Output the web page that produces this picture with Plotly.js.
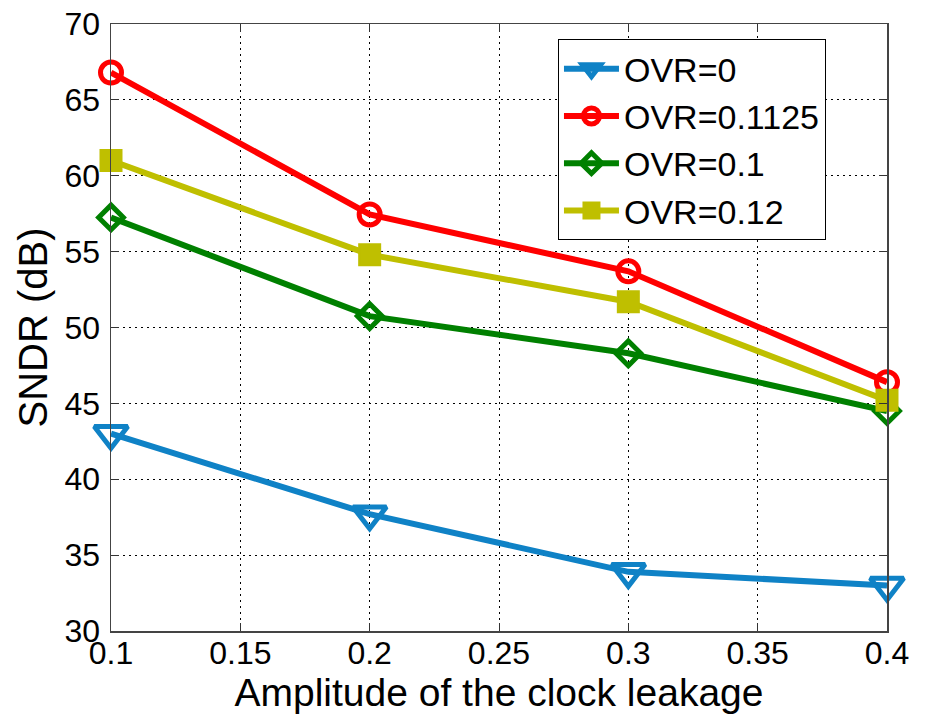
<!DOCTYPE html>
<html>
<head>
<meta charset="utf-8">
<script src="https://cdn.plot.ly/plotly-3.0.1.min.js"></script>
<style>
  html, body { margin: 0; padding: 0; background: #fff; }
  #chart { width: 928px; height: 715px; }
</style>
</head>
<body>
<div id="chart"></div>
<script>
// Clock-leakage amplitude (x) and measured SNDR in dB for each OVR setting
const amplitude = [0.1, 0.2, 0.3, 0.4];
const sndrOvr0 = [43.0, 37.7, 33.9, 33.0];
const sndrOvr01125 = [66.8, 57.45, 53.7, 46.4];
const sndrOvr01 = [57.25, 50.75, 48.3, 44.5];
const sndrOvr012 = [61.0, 54.8, 51.7, 45.2];

const seriesNames = ['OVR=0', 'OVR=0.1125', 'OVR=0.1', 'OVR=0.12'];
const xTicks = [0.1, 0.15, 0.2, 0.25, 0.3, 0.35, 0.4];
const xTickText = ['0.1', '0.15', '0.2', '0.25', '0.3', '0.35', '0.4'];
const yTicks = [30, 35, 40, 45, 50, 55, 60, 65, 70];

const FONT = 'Arial, "Liberation Sans", sans-serif';

function series(name, y, color, symbol, size, lw) {
  return {
    type: 'scatter',
    mode: 'lines+markers',
    name: name,
    x: amplitude,
    y: y,
    line: { color: color, width: 6 },
    marker: { symbol: symbol, size: size, color: color, line: { color: color, width: lw } },
    cliponaxis: false
  };
}

const traces = [
  series(seriesNames[0], sndrOvr0, '#0F82C6', 'triangle-down-open', 29, 5),
  series(seriesNames[1], sndrOvr01125, '#FF0000', 'circle-open', 21, 5),
  series(seriesNames[2], sndrOvr01, '#008000', 'diamond-open', 19, 5),
  series(seriesNames[3], sndrOvr012, '#BFBF00', 'square', 21, 2)
];

const axisCommon = {
  showline: true,
  linecolor: '#444',
  linewidth: 1.5,
  mirror: 'ticks',
  ticks: 'inside',
  ticklen: 8,
  tickwidth: 1,
  tickcolor: '#333',
  showgrid: true,
  gridcolor: '#000',
  gridwidth: 1,
  griddash: '2px,4px',
  zeroline: false,
  tickfont: { family: FONT, size: 32, color: '#000' }
};

const layout = {
  width: 928,
  height: 715,
  margin: { l: 111, r: 41, t: 24, b: 84 },
  paper_bgcolor: '#fff',
  plot_bgcolor: '#fff',
  showlegend: true,
  xaxis: Object.assign({}, axisCommon, {
    range: [0.1, 0.4],
    tickvals: xTicks,
    ticktext: xTickText,
    ticklabelstandoff: -7,
    title: { text: 'Amplitude of the clock leakage', font: { family: FONT, size: 39, color: '#000' }, standoff: 0 }
  }),
  yaxis: Object.assign({}, axisCommon, {
    range: [30, 70],
    tickvals: yTicks,
    ticklabelstandoff: 3,
    title: { text: 'SNDR (dB)', font: { family: FONT, size: 40, color: '#000' }, standoff: 4 }
  }),
  legend: {
    x: 0.576,
    y: 0.975,
    xanchor: 'left',
    yanchor: 'top',
    bgcolor: '#fff',
    bordercolor: '#000',
    borderwidth: 1,
    itemwidth: 55,
    font: { family: FONT, size: 34, color: '#000' }
  }
};

Plotly.newPlot('chart', traces, layout, { displayModeBar: false, staticPlot: true });
</script>
</body>
</html>
